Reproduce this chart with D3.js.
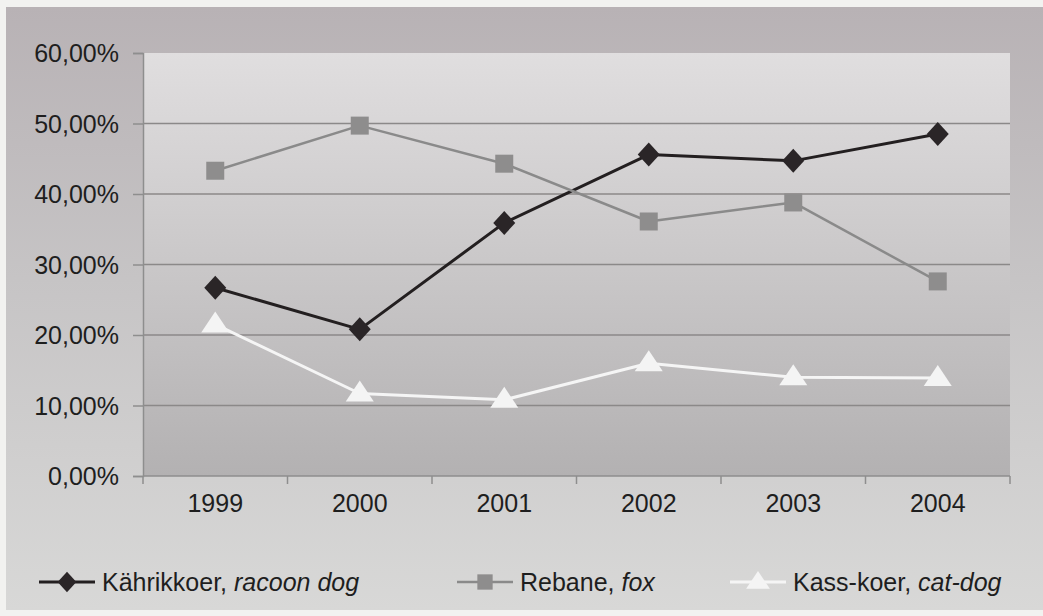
<!DOCTYPE html>
<html>
<head>
<meta charset="utf-8">
<script src="https://cdn.jsdelivr.net/npm/d3@7/dist/d3.min.js"></script>
<style>
  html, body { margin: 0; padding: 0; background: #f2f2f0; }
  svg { display: block; }
  text { font-family: "Liberation Sans", Arial, sans-serif; fill: #1e1e1e; }
</style>
</head>
<body>
<svg id="chart" width="1043" height="616"></svg>
<script>
// ---- data ----
const years = ["1999", "2000", "2001", "2002", "2003", "2004"];
const raccoonDog = [0.267, 0.208, 0.359, 0.456, 0.447, 0.485];
const fox        = [0.433, 0.497, 0.443, 0.361, 0.388, 0.276];
const catDog     = [0.215, 0.117, 0.108, 0.160, 0.140, 0.139];
const yTicks = [0, 0.1, 0.2, 0.3, 0.4, 0.5, 0.6];
const seriesNames = ["Kährikkoer, ", "Rebane, ", "Kass-koer, "];
const seriesLatin = ["racoon dog", "fox", "cat-dog"];

const series = [
  { name: seriesNames[0], latin: seriesLatin[0], values: raccoonDog, color: "#231f20", width: 3,   marker: "diamond", fill: "#2a2527" },
  { name: seriesNames[1], latin: seriesLatin[1], values: fox,        color: "#8a8a8a", width: 2.5, marker: "square",  fill: "#8e8d8d" },
  { name: seriesNames[2], latin: seriesLatin[2], values: catDog,     color: "#f5f5f5", width: 3,   marker: "triangle",fill: "#f4f4f4" }
];

const svg = d3.select("#chart");
const defs = svg.append("defs");

const outerGrad = defs.append("linearGradient").attr("id", "outerG").attr("x1", 0).attr("y1", 0).attr("x2", 0).attr("y2", 1);
outerGrad.append("stop").attr("offset", "0%").attr("stop-color", "#b8b2b5");
outerGrad.append("stop").attr("offset", "45%").attr("stop-color", "#c6c4c5");
outerGrad.append("stop").attr("offset", "100%").attr("stop-color", "#d8d8d7");

const plotGrad = defs.append("linearGradient").attr("id", "plotG").attr("x1", 0).attr("y1", 0).attr("x2", 0).attr("y2", 1);
plotGrad.append("stop").attr("offset", "0%").attr("stop-color", "#e0dedf");
plotGrad.append("stop").attr("offset", "100%").attr("stop-color", "#b3b1b2");

// outer chart area
svg.append("rect").attr("x", 6).attr("y", 7).attr("width", 1037).attr("height", 603).attr("fill", "url(#outerG)");

const pLeft = 143, pRight = 1010, pTop = 53, pBottom = 476;

const x = d3.scaleBand().domain(years).range([pLeft, pRight]).padding(0);
const y = d3.scaleLinear().domain([0, 0.6]).range([pBottom, pTop]);

const locale = d3.formatLocale({ decimal: ",", thousands: " ", grouping: [3], currency: ["", "€"] });
const fmt = locale.format(".2%");

// plot area
svg.append("rect").attr("x", pLeft).attr("y", y(0.6)).attr("width", pRight - pLeft).attr("height", pBottom - y(0.6)).attr("fill", "url(#plotG)");

// gridlines
svg.append("g").selectAll("line").data(yTicks.filter(d => d > 0 && d < 0.6)).join("line")
  .attr("x1", pLeft).attr("x2", pRight)
  .attr("y1", d => y(d)).attr("y2", d => y(d))
  .attr("stroke", "#8b8989").attr("stroke-width", 1.5);

// y axis
const yAxis = svg.append("g").attr("transform", `translate(${pLeft},0)`)
  .call(d3.axisLeft(y).tickValues(yTicks).tickFormat(fmt).tickSize(10).tickPadding(14));
yAxis.select(".domain").attr("stroke", "#8e8e8e").attr("stroke-width", 1.5);
yAxis.selectAll(".tick line").attr("stroke", "#8e8e8e").attr("stroke-width", 1.5);
yAxis.selectAll(".tick text").attr("font-size", 25).attr("font-family", "Liberation Sans, Arial, sans-serif").attr("fill", "#1e1e1e").attr("dy", "0.35em");

// x axis
const boundaries = years.map(d => x(d)).concat([pRight]);
const xAxisG = svg.append("g");
xAxisG.append("line").attr("x1", pLeft).attr("x2", pRight).attr("y1", pBottom).attr("y2", pBottom)
  .attr("stroke", "#8e8e8e").attr("stroke-width", 1.5);
xAxisG.selectAll(".xt").data(boundaries).join("line").attr("class", "xt")
  .attr("x1", d => d).attr("x2", d => d).attr("y1", pBottom).attr("y2", pBottom + 8)
  .attr("stroke", "#8e8e8e").attr("stroke-width", 1.5);
xAxisG.selectAll("text").data(years).join("text")
  .attr("x", d => x(d) + x.bandwidth() / 2).attr("y", pBottom + 36)
  .attr("text-anchor", "middle").attr("font-size", 25).text(d => d);

// markers
function drawMarker(g, type, fill, scale) {
  const s = scale || 1;
  if (type === "diamond") {
    g.append("path").attr("d", `M0,${-12*s} L${11*s},0 L0,${12*s} L${-11*s},0 Z`).attr("fill", fill);
  } else if (type === "square") {
    g.append("rect").attr("x", -9*s).attr("y", -9*s).attr("width", 18*s).attr("height", 18*s).attr("fill", fill);
  } else {
    g.append("path").attr("d", `M0,${-13*s} L${14*s},${8*s} L${-14*s},${8*s} Z`).attr("fill", fill);
  }
}

const line = d3.line().x((d, i) => x(years[i]) + x.bandwidth() / 2).y(d => y(d));

series.forEach(s => {
  svg.append("path").datum(s.values).attr("d", line)
    .attr("fill", "none").attr("stroke", s.color).attr("stroke-width", s.width).attr("stroke-linejoin", "round");
  s.values.forEach((v, i) => {
    const g = svg.append("g").attr("transform", `translate(${x(years[i]) + x.bandwidth() / 2},${y(v)})`);
    drawMarker(g, s.marker, s.fill, 1);
  });
});

// legend
const legendY = 582;
const legendX = [39, 457, 730];
series.forEach((s, i) => {
  const lx = legendX[i];
  svg.append("line").attr("x1", lx).attr("x2", lx + 56).attr("y1", legendY).attr("y2", legendY)
    .attr("stroke", s.color).attr("stroke-width", s.width);
  const g = svg.append("g").attr("transform", `translate(${lx + 28},${legendY})`);
  drawMarker(g, s.marker, s.fill, 0.85);
  const t = svg.append("text").attr("x", lx + 63).attr("y", legendY).attr("dy", "0.35em").attr("font-size", 25);
  t.append("tspan").text(s.name);
  t.append("tspan").attr("font-style", "italic").text(s.latin);
});
</script>
</body>
</html>
